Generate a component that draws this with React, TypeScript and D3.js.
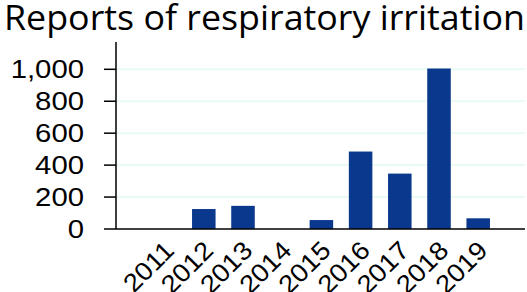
import React, { useEffect, useRef } from "react";
import * as d3 from "d3";

const years = ["2011", "2012", "2013", "2014", "2015", "2016", "2017", "2018", "2019"];
const reports = [0, 125, 145, 0, 56, 485, 347, 1005, 67];
const yTicks = [0, 200, 400, 600, 800, 1000];
const title = "Reports of respiratory irritation";

export default function App() {
  const ref = useRef<SVGSVGElement | null>(null);

  useEffect(() => {
    if (!ref.current) return;
    const svg = d3.select(ref.current);
    svg.selectAll("*").remove();

    const x0 = 116;
    const baseY = 229;

    const x = d3.scaleBand().domain(years).range([145, 497.8]).paddingInner(0.4).paddingOuter(0.2);
    const y = d3.scaleLinear().domain([0, 1000]).range([baseY, 69.3]);

    svg
      .append("text")
      .attr("x", 4)
      .attr("y", 30)
      .attr("font-family", "Open Sans")
      .attr("font-size", 35)
      .attr("textLength", 521)
      .attr("lengthAdjust", "spacingAndGlyphs")
      .attr("fill", "#000")
      .text(title);

    // gridlines
    svg
      .append("g")
      .selectAll("line")
      .data(yTicks.filter((d) => d > 0))
      .enter()
      .append("line")
      .attr("x1", x0)
      .attr("x2", 525)
      .attr("y1", (d) => y(d))
      .attr("y2", (d) => y(d))
      .attr("stroke", "#eafaf3")
      .attr("stroke-width", 2);

    svg
      .append("g")
      .selectAll("rect")
      .data(reports)
      .enter()
      .append("rect")
      .attr("x", (_, i) => x(years[i])!)
      .attr("width", x.bandwidth())
      .attr("y", (d) => y(d))
      .attr("height", (d) => baseY - y(d))
      .attr("fill", "#0a388c");

    // y axis ticks + labels
    const fmt = d3.format(",");
    const yg = svg.append("g");
    yg.selectAll("line")
      .data(yTicks)
      .enter()
      .append("line")
      .attr("x1", x0 - 12)
      .attr("x2", x0)
      .attr("y1", (d) => y(d))
      .attr("y2", (d) => y(d))
      .attr("stroke", "#000")
      .attr("stroke-width", 1.5);
    yg.selectAll("text")
      .data(yTicks)
      .enter()
      .append("text")
      .attr("transform", (d) => `translate(84,${y(d)}) scale(1.15,1)`)
      .attr("text-anchor", "end")
      .attr("dy", "0.36em")
      .attr("font-family", "Liberation Sans")
      .attr("font-size", 25.5)
      .attr("fill", "#000")
      .text((d) => fmt(d));

    svg
      .append("line")
      .attr("x1", x0)
      .attr("x2", x0)
      .attr("y1", 42)
      .attr("y2", baseY)
      .attr("stroke", "#000")
      .attr("stroke-width", 1.5);

    // x axis
    svg
      .append("line")
      .attr("x1", x0)
      .attr("x2", 525)
      .attr("y1", baseY)
      .attr("y2", baseY)
      .attr("stroke", "#000")
      .attr("stroke-width", 1.5);

    svg
      .append("g")
      .selectAll("text")
      .data(years)
      .enter()
      .append("text")
      .attr("transform", (d) => `translate(${x(d)! + x.bandwidth() / 2 + 11},${baseY + 23}) rotate(-45) scale(1.08,1)`)
      .attr("text-anchor", "end")
      .attr("font-family", "Liberation Sans")
      .attr("font-size", 25.5)
      .attr("fill", "#000")
      .text((d) => d);
  }, []);

  return (
    <svg
      ref={ref}
      width={527}
      height={292}
      style={{ position: "absolute", left: 0, top: 0, display: "block" }}
    />
  );
}
